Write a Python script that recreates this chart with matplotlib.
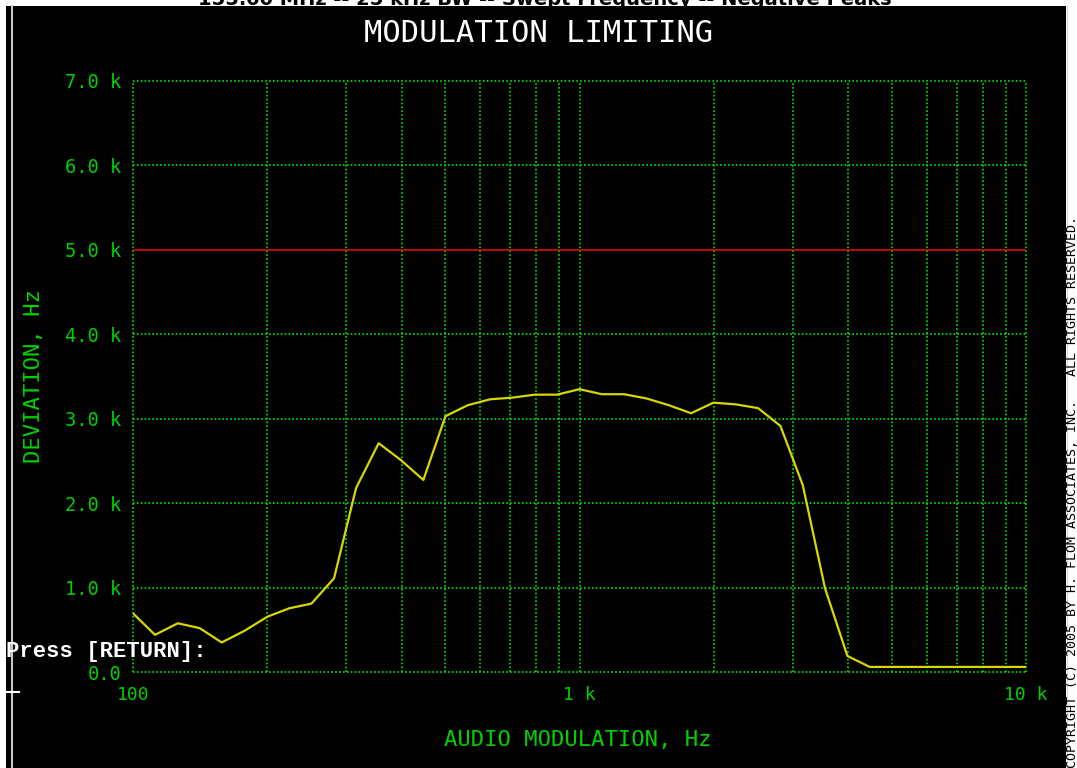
import matplotlib
matplotlib.use('Agg')
import matplotlib.pyplot as plt
from matplotlib.patches import Rectangle
from matplotlib.lines import Line2D
from matplotlib.ticker import FixedLocator, LogLocator, NullFormatter

# sweep frequencies (Hz), 1/20 decade steps
freqs = [100, 112, 126, 141, 158, 178, 200, 224, 251, 282, 316, 355, 398, 447,
         501, 562, 631, 708, 794, 891, 1000, 1122, 1259, 1413, 1585, 1778, 1995,
         2239, 2512, 2818, 3162, 3548, 3981, 4467, 5012, 5623, 6310, 7079, 7943,
         8913, 10000]
deviation = [695, 440, 577, 520, 350, 490, 655, 755, 810, 1110, 2180, 2710, 2510,
             2275, 3030, 3160, 3230, 3250, 3285, 3285, 3350, 3290, 3290, 3240,
             3160, 3065, 3190, 3170, 3125, 2915, 2215, 990, 190, 60, 60, 60, 60,
             60, 60, 60, 60]
limit = 5000

x_ticks = [100, 1000, 10000]
x_labels = ['100', '1 k', '10 k']
y_ticks = [0, 1000, 2000, 3000, 4000, 5000, 6000, 7000]
y_labels = ['0.0', '1.0 k', '2.0 k', '3.0 k', '4.0 k', '5.0 k', '6.0 k', '7.0 k']

W, H = 1077, 768
green = '#00d000'
mono = 'DejaVu Sans Mono'

fig = plt.figure(figsize=(W / 100, H / 100), dpi=100, facecolor='white')

# header strip at the very top, mostly cut off
fig.text(545 / W, 1 - 5 / H, '155.00 MHz -- 25 kHz BW -- Swept Frequency -- Negative Peaks',
         color='black', fontsize=14, fontweight='bold', ha='center', va='baseline')

# black screen area
fig.patches.append(Rectangle((6 / W, 0), (1066 - 6) / W, (H - 6) / H,
                             transform=fig.transFigure, facecolor='black',
                             edgecolor='none', zorder=-10))
# left border line and cursor
fig.lines.append(Line2D([11.5 / W, 11.5 / W], [0, 1 - 6 / H], transform=fig.transFigure,
                        color='#c8c8c8', linewidth=1.5))
fig.lines.append(Line2D([6 / W, 19 / W], [1 - 692 / H, 1 - 692 / H], transform=fig.transFigure,
                        color='white', linewidth=1.5))
fig.lines.append(Line2D([1066.5 / W, 1066.5 / W], [0, 1 - 6 / H], transform=fig.transFigure,
                        color='#d8d8d8', linewidth=1.0))

ax = fig.add_axes([133 / W, 1 - 672 / H, 893 / W, 591 / H])
ax.set_facecolor('black')
ax.set_xscale('log')
ax.set_xlim(100, 10000)
ax.set_ylim(0, 7000)

ax.xaxis.set_major_locator(FixedLocator(x_ticks))
ax.xaxis.set_minor_locator(LogLocator(base=10, subs=range(2, 10)))
ax.xaxis.set_minor_formatter(NullFormatter())
ax.set_xticklabels(x_labels)
ax.set_yticks(y_ticks)
ax.set_yticklabels(y_labels)
ax.tick_params(which='both', length=0, colors=green)
ax.tick_params(axis='x', pad=10, labelsize=13)
ax.tick_params(axis='y', pad=8.6, labelsize=13.5)
for lab in ax.get_xticklabels() + ax.get_yticklabels():
    lab.set_family(mono)

ax.grid(which='both', color=green, linestyle=(0, (0.8, 1.2)), linewidth=1.4)
# keep the border grid lines whole
for t in ax.xaxis.get_major_ticks() + ax.yaxis.get_major_ticks():
    t.gridline.set_clip_on(False)
for s in ax.spines.values():
    s.set_visible(False)

ax.axhline(limit, color='#d00000', linewidth=1.3)
ax.plot(freqs, deviation, color='#d8d800', linewidth=1.6)

ax.set_xlabel('AUDIO MODULATION, Hz', color=green, fontsize=16, family=mono)
ax.xaxis.set_label_coords(0.498, -0.098)
ax.set_ylabel('DEVIATION, Hz', color=green, fontsize=16, family=mono)
ax.yaxis.set_label_coords(-0.0997, 0.5)

fig.text(0.5, 1 - 33 / H, 'MODULATION LIMITING', color='white', fontsize=22,
         family=mono, ha='center', va='center')

fig.text(6 / W, 1 - 652 / H, 'Press [RETURN]:', color='white', fontsize=16,
         family='Liberation Mono', fontweight='bold', ha='left', va='center')

fig.text(1072 / W, 0, 'COPYRIGHT (C) 2005 BY H. FLOM ASSOCIATES, INC.   ALL RIGHTS RESERVED.',
         color='black', fontsize=9.6, family=mono, rotation=90,
         ha='center', va='bottom')

fig.savefig('out.png', dpi=100, facecolor='white')
